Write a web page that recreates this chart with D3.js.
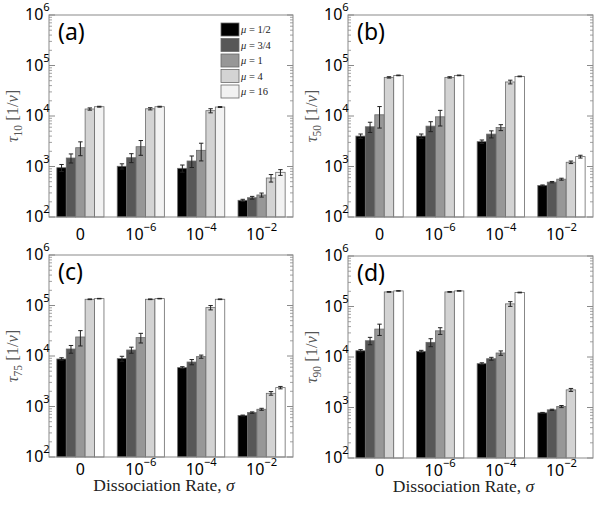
<!DOCTYPE html>
<html><head><meta charset="utf-8">
<script src="https://cdn.jsdelivr.net/npm/d3@7"></script>
<style>body{margin:0;background:#fff}</style>
</head><body>
<svg id="c" width="600" height="509" xmlns="http://www.w3.org/2000/svg"></svg>
<script>
// ---- data ----
const sigmaExps = [null, -6, -4, -2];          // null -> "0"
const muLabels = ["1/2", "3/4", "1", "4", "16"];
const panelLetters = ["(a)", "(b)", "(c)", "(d)"];
const tauSubs = ["10", "50", "75", "90"];
const yTickExps = [2, 3, 4, 5, 6];

const tau10 = [
  [946, 1473, 2356, 13760, 15280],
  [1010, 1493, 2466, 13900, 15280],
  [920, 1285, 2090, 12740, 15060],
  [214, 241, 273, 592, 767]];
const err10 = [
  [150, 300, 720, 700, 300],
  [120, 300, 800, 700, 300],
  [150, 330, 800, 1200, 300],
  [10, 15, 25, 100, 100]];

const tau50 = [
  [4000, 6120, 10570, 58200, 63700],
  [4000, 6300, 9640, 58200, 63700],
  [3100, 4380, 5930, 47200, 60800],
  [421, 490, 561, 1213, 1570]];
const err50 = [
  [400, 1400, 4800, 1800, 1000],
  [400, 1400, 3300, 1800, 1000],
  [250, 700, 800, 4000, 1000],
  [10, 15, 25, 70, 100]];

const tau75 = [
  [8730, 13760, 23800, 132800, 136800],
  [8870, 13150, 23100, 132800, 136800],
  [5890, 7600, 9720, 90800, 132800],
  [661, 757, 881, 1824, 2366]];
const err75 = [
  [500, 2400, 8000, 2000, 1500],
  [1000, 1800, 5000, 2000, 1500],
  [250, 900, 700, 9000, 2000],
  [15, 25, 40, 150, 130]];

const tau90 = [
  [13300, 21000, 35700, 194500, 203600],
  [12940, 19500, 33000, 194500, 203600],
  [7380, 9250, 12000, 112700, 189300],
  [784, 899, 1045, 2234, null]];
const err90 = [
  [700, 3500, 9000, 3000, 2000],
  [600, 3500, 5000, 3000, 2000],
  [300, 600, 1200, 12000, 3000],
  [15, 25, 50, 150, 0]];

// ---- drawing ----
const svg = d3.select("#c");
const barColors = ["#000000", "#575757", "#979797", "#d3d3d3", "#ffffff"];
const sans = "'Noto Sans', 'Open Sans', sans-serif";
const serif = "'Liberation Serif', 'DejaVu Serif', serif";

const panels = [
  {x0: 49, x1: 293, y0: 15, y1: 217, vals: tau10, errs: err10, lastColor: "#f2f2f2", xlab: false, legend: true, tickOff: 23},
  {x0: 348, x1: 593, y0: 15, y1: 217, vals: tau50, errs: err50, lastColor: "#ffffff", xlab: false, legend: false, tickOff: 23},
  {x0: 49, x1: 293, y0: 255, y1: 457, vals: tau75, errs: err75, lastColor: "#ffffff", xlab: true, legend: false, tickOff: 18},
  {x0: 348, x1: 593, y0: 256, y1: 458, vals: tau90, errs: err90, lastColor: "#ffffff", xlab: true, legend: false, tickOff: 17.5}
];

function pow10(sel, base, exp, x, y, size, anchor) {
  const t = sel.append("text").attr("x", x).attr("y", y)
    .attr("font-family", sans).attr("font-size", size).attr("fill", "#000")
    .attr("text-anchor", anchor);
  t.append("tspan").text(base);
  if (exp !== null && exp !== undefined) {
    t.append("tspan").attr("dy", -size * 0.55).attr("font-size", size * 0.7)
      .text(String(exp).replace("-", "\u2212"));
  }
  return t;
}

panels.forEach((p, pi) => {
  const g = svg.append("g");
  const y = d3.scaleLog().domain([1e2, 1e6]).range([p.y1, p.y0]);
  const xg = d3.scaleBand().domain(d3.range(sigmaExps.length)).range([p.x0, p.x1])
    .paddingInner(0.22).paddingOuter(0.13);
  const xb = d3.scaleBand().domain(d3.range(muLabels.length)).range([0, xg.bandwidth()]);
  const colors = barColors.slice(0, 4).concat([p.lastColor]);

  // bars
  sigmaExps.forEach((s, gi) => {
    muLabels.forEach((m, bi) => {
      const v = p.vals[gi][bi];
      if (v === null) return;
      const bx = xg(gi) + xb(bi);
      g.append("rect").attr("x", bx).attr("y", y(v))
        .attr("width", xb.bandwidth()).attr("height", y(1e2) - y(v))
        .attr("fill", colors[bi]).attr("stroke", "#6a6a6a").attr("stroke-width", 0.8);
    });
  });
  // error bars
  sigmaExps.forEach((s, gi) => {
    muLabels.forEach((m, bi) => {
      const v = p.vals[gi][bi], e = p.errs[gi][bi];
      if (v === null || !e) return;
      const cx = xg(gi) + xb(bi) + xb.bandwidth() / 2;
      const yt = y(v + e), yb = y(Math.max(v - e, 101));
      g.append("line").attr("x1", cx).attr("x2", cx).attr("y1", yt).attr("y2", yb)
        .attr("stroke", "#222").attr("stroke-width", 1);
      [yt, yb].forEach(yy => g.append("line").attr("x1", cx - 2.2).attr("x2", cx + 2.2)
        .attr("y1", yy).attr("y2", yy).attr("stroke", "#222").attr("stroke-width", 1));
    });
  });

  // frame
  g.append("rect").attr("x", p.x0).attr("y", p.y0).attr("width", p.x1 - p.x0)
    .attr("height", p.y1 - p.y0).attr("fill", "none").attr("stroke", "#8a8a8a").attr("stroke-width", 1);

  // y ticks (left and right, inward)
  const tickColor = "#8a8a8a";
  yTickExps.forEach((e, i) => {
    const base = Math.pow(10, e);
    const yy = y(base);
    [[p.x0, 1], [p.x1, -1]].forEach(([xx, dir]) => {
      g.append("line").attr("x1", xx).attr("x2", xx + dir * 6).attr("y1", yy).attr("y2", yy)
        .attr("stroke", tickColor).attr("stroke-width", 1);
      if (i < yTickExps.length - 1) {
        for (let k = 2; k <= 9; k++) {
          const ym = y(base * k);
          g.append("line").attr("x1", xx).attr("x2", xx + dir * 3).attr("y1", ym).attr("y2", ym)
            .attr("stroke", tickColor).attr("stroke-width", 0.8);
        }
      }
    });
    pow10(g, "10", e, p.x0 - 24, yy + 5, 16, "start");
  });

  // x tick labels
  sigmaExps.forEach((s, gi) => {
    const cx = xg(gi) + xg.bandwidth() / 2;
    if (s === null) pow10(g, "0", null, cx, p.y1 + p.tickOff, 16, "middle");
    else pow10(g, "10", s, cx, p.y1 + p.tickOff, 16, "middle");
  });

  // panel letter
  g.append("text").attr("x", p.x0 + 9).attr("y", p.y0 + 25)
    .attr("font-family", sans).attr("font-size", 23).text(panelLetters[pi]);

  // y label
  const yl = g.append("text")
    .attr("transform", `translate(${p.x0 - 31},${(p.y0 + p.y1) / 2}) rotate(-90)`)
    .attr("text-anchor", "middle").attr("font-family", serif).attr("font-size", 16.5).attr("fill", "#555");
  yl.append("tspan").attr("font-style", "italic").text("\u03C4");
  yl.append("tspan").attr("dy", 3.5).attr("font-size", 11.5).text(tauSubs[pi]);
  yl.append("tspan").attr("dy", -3.5).text(" [1/");
  yl.append("tspan").attr("font-style", "italic").text("\u03BD");
  yl.append("tspan").text("]");

  // x label
  if (p.xlab) {
    const xl = g.append("text").attr("x", (p.x0 + p.x1) / 2 - 7).attr("y", p.y1 + 34)
      .attr("text-anchor", "middle").attr("font-family", serif).attr("font-size", 17.5).attr("fill", "#222");
    xl.append("tspan").text("Dissociation Rate, ");
    xl.append("tspan").attr("font-style", "italic").text("\u03C3");
  }

  // legend
  if (p.legend) {
    muLabels.forEach((m, i) => {
      const ly = p.y0 + 8 + i * 15.5;
      g.append("rect").attr("x", 221).attr("y", ly).attr("width", 18).attr("height", 13)
        .attr("fill", colors[i]).attr("stroke", "#6a6a6a").attr("stroke-width", 0.8);
      const t = g.append("text").attr("x", 241).attr("y", ly + 10)
        .attr("font-family", serif).attr("font-size", 10.5).attr("fill", "#222");
      t.append("tspan").attr("font-style", "italic").text("\u03BC");
      t.append("tspan").text(" = " + m);
    });
  }
});
</script>
</body></html>
